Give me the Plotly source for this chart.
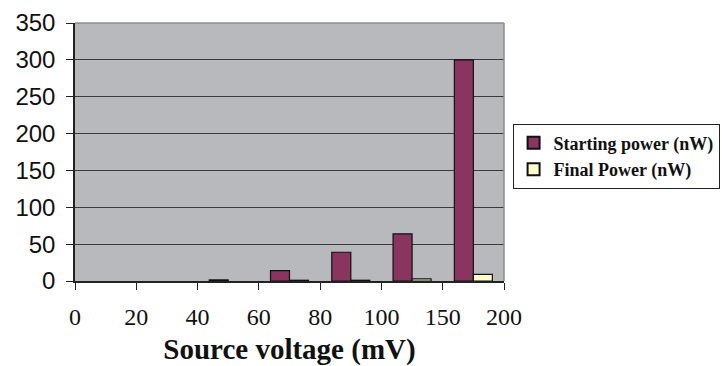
import numpy as np
import plotly.graph_objects as go

# Source voltage boundaries shown on the x axis (mV)
tick_labels = ["0", "20", "40", "60", "80", "100", "150", "200"]

# Power measured in each voltage interval (nW)
starting_power = [0, 0, 1.5, 14, 39, 64, 300]
final_power = [0, 0, 0, 1, 1, 3, 9]

# Bars sit in the middle of each interval between consecutive labels
slot_centers = np.arange(len(starting_power)) + 0.5
tick_positions = np.arange(len(tick_labels))


def outline_widths(values):
    # empty intervals get no outline so nothing is drawn there
    return [1.2 if v > 0 else 0 for v in values]


fig = go.Figure()
fig.add_trace(go.Bar(
    x=slot_centers, y=starting_power, name="Starting power (nW)",
    marker=dict(color="#8a3560",
                line=dict(color="#111111", width=outline_widths(starting_power))),
))
fig.add_trace(go.Bar(
    x=slot_centers, y=final_power, name="Final Power (nW)",
    marker=dict(color="#ffffcc",
                line=dict(color="#111111", width=outline_widths(final_power))),
))

fig.update_layout(
    width=722, height=366,
    margin=dict(l=75, r=218, t=23, b=85, autoexpand=False),
    paper_bgcolor="white",
    plot_bgcolor="#b8b9bd",
    barmode="group",
    bargap=0.38,
    bargroupgap=0,
    showlegend=True,
    legend=dict(
        x=1.02, y=0.61, xanchor="left", yanchor="top",
        bgcolor="white", bordercolor="#222222", borderwidth=1,
        font=dict(family="Liberation Serif", size=18, color="#111111",
                  weight="bold"),
        itemsizing="constant", itemwidth=30, tracegroupgap=4,
    ),
    xaxis=dict(
        range=[0, 7], tickmode="array",
        tickvals=tick_positions, ticktext=tick_labels,
        showgrid=False, zeroline=False, automargin=False,
        ticks="outside", ticklen=7, tickcolor="#222222",
        showline=True, linecolor="#222222", linewidth=1.5,
        tickfont=dict(family="Liberation Serif", size=24, color="#111111"),
        ticklabelstandoff=6,
        title=dict(text="Source voltage (mV)", standoff=22,
                   font=dict(family="Liberation Serif", size=29,
                             color="#111111", weight="bold")),
    ),
    yaxis=dict(
        range=[0, 350], tickmode="linear", tick0=0, dtick=50,
        showgrid=True, gridcolor="#3a3a3a", gridwidth=1.2,
        zeroline=False, automargin=False,
        ticks="outside", ticklen=7, tickcolor="#222222",
        showline=True, linecolor="#222222", linewidth=1.5,
        tickfont=dict(family="Liberation Sans", size=24, color="#111111"),
        ticklabelstandoff=6,
    ),
)

# Light frame along the top and right of the plotting area
fig.add_shape(type="line", xref="paper", yref="paper", x0=0, x1=1, y0=1, y1=1,
              line=dict(color="#8d8d90", width=1.5))
fig.add_shape(type="line", xref="paper", yref="paper", x0=1, x1=1, y0=0, y1=1,
              line=dict(color="#8d8d90", width=1.5))

fig.write_html("out.html")
